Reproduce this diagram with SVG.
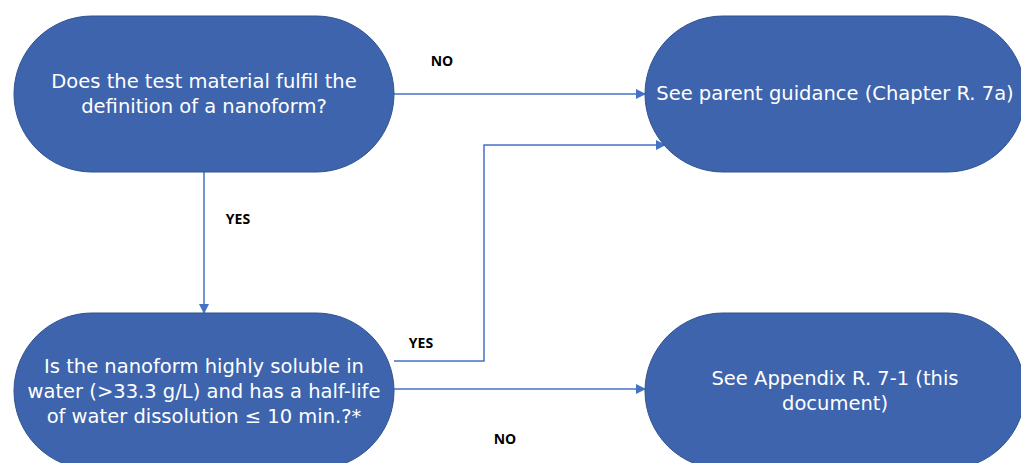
<svg xmlns="http://www.w3.org/2000/svg" width="1021" height="463" viewBox="0 0 1021 463">
<style>
.node{fill:#3e64ad;stroke:#2f528f;stroke-width:1}
.nt{font-family:Verdana,"DejaVu Sans",sans-serif;font-size:19.5px;fill:#ffffff;text-anchor:middle}
.lbl{font-family:"Open Sans","Liberation Sans",sans-serif;font-size:14px;font-weight:bold;fill:#000000;text-anchor:middle}
.conn{fill:none;stroke:#4472c4;stroke-width:1.5}
</style>
<defs>
<marker id="arr" markerWidth="10" markerHeight="10" refX="9" refY="5" orient="auto" markerUnits="userSpaceOnUse" viewBox="0 0 10 10">
<path d="M0,0 L10,5 L0,10 Z" fill="#4472c4"/>
</marker>
</defs>
<rect width="1021" height="463" fill="#ffffff"/>
<g id="connectors">
<line class="conn" x1="394" y1="94" x2="645" y2="94" marker-end="url(#arr)"/>
<line class="conn" x1="204" y1="172" x2="204" y2="313" marker-end="url(#arr)"/>
<polyline class="conn" points="394,361 484,361 484,145 665,145" marker-end="url(#arr)"/>
<line class="conn" x1="394" y1="389" x2="645" y2="389" marker-end="url(#arr)"/>
<text class="lbl" x="442" y="66">NO</text>
<text class="lbl" x="238" y="224">YES</text>
<text class="lbl" x="421" y="348">YES</text>
<text class="lbl" x="505" y="444">NO</text>
</g>
<g id="n1">
<rect class="node" x="14" y="16" width="380" height="156" rx="78" ry="78"/>
<text class="nt" x="204" y="87.5">Does the test material fulfil the</text>
<text class="nt" x="204" y="112.5">definition of a nanoform?</text>
</g>
<g id="n2">
<rect class="node" x="645" y="16" width="380" height="156" rx="78" ry="78"/>
<text class="nt" x="835" y="100">See parent guidance (Chapter R. 7a)</text>
</g>
<g id="n3">
<rect class="node" x="14" y="313" width="380" height="156" rx="78" ry="78"/>
<text class="nt" x="204" y="372.5">Is the nanoform highly soluble in</text>
<text class="nt" x="204" y="397.5">water (&gt;33.3 g/L) and has a half-life</text>
<text class="nt" x="204" y="422.5">of water dissolution ≤ 10 min.?*</text>
</g>
<g id="n4">
<rect class="node" x="645" y="313" width="380" height="156" rx="78" ry="78"/>
<text class="nt" x="835" y="385">See Appendix R. 7-1 (this</text>
<text class="nt" x="835" y="410">document)</text>
</g>
</svg>
